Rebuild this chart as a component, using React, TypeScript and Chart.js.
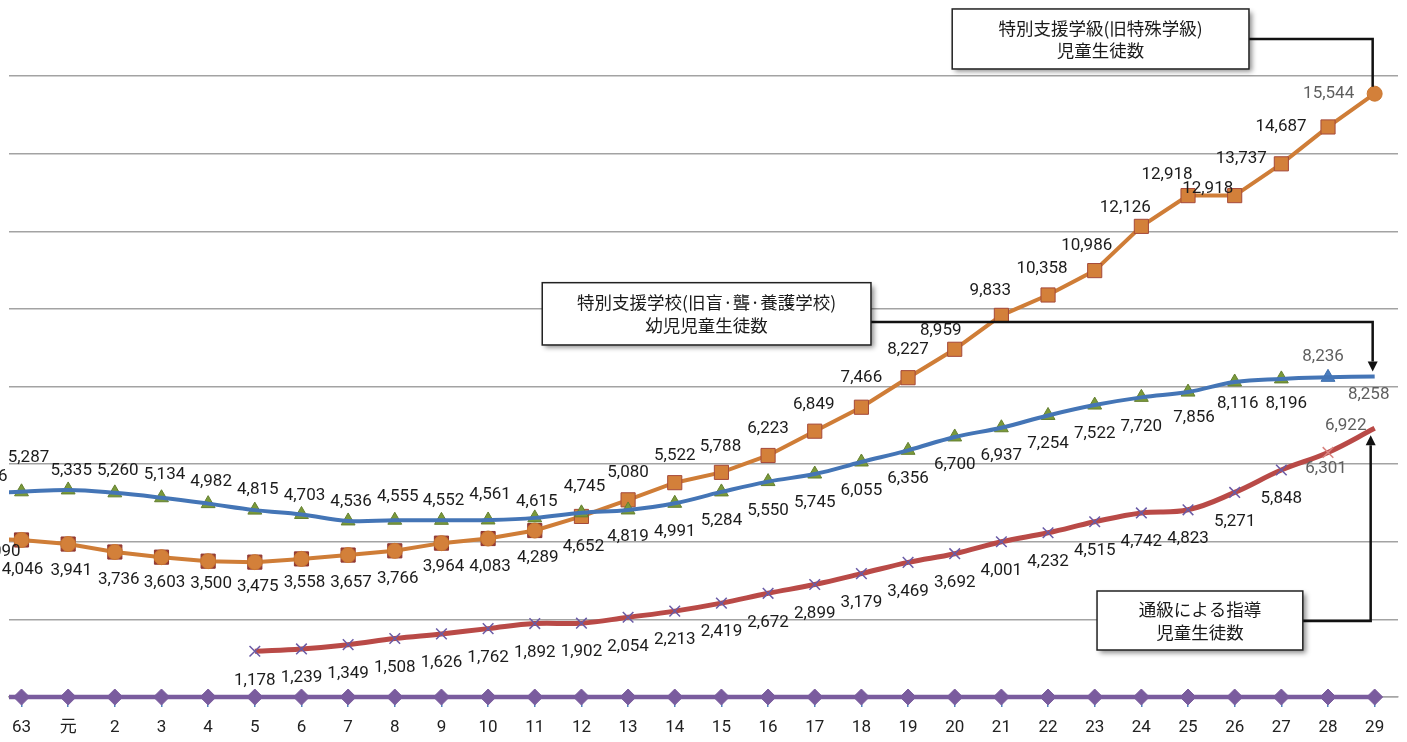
import React, { useEffect, useRef } from "react";
import { Chart, registerables } from "chart.js";

Chart.register(...registerables);

// ---- data -------------------------------------------------------------
// 昭和62, 63, 平成元 … 29
const CATEGORIES = [
  "62", "63", "元", "2", "3", "4", "5", "6", "7", "8", "9", "10", "11", "12", "13",
  "14", "15", "16", "17", "18", "19", "20", "21", "22", "23", "24", "25", "26", "27", "28", "29",
];

// 特別支援学校(旧盲・聾・養護学校) 幼児児童生徒数
const SCHOOL_STUDENTS = [
  5256, 5287, 5335, 5260, 5134, 4982, 4815, 4703, 4536, 4555, 4552, 4561, 4615, 4745, 4819,
  4991, 5284, 5550, 5745, 6055, 6356, 6700, 6937, 7254, 7522, 7720, 7856, 8116, 8196, 8236, 8258,
];

// 特別支援学級(旧特殊学級) 児童生徒数
const CLASS_STUDENTS = [
  4090, 4046, 3941, 3736, 3603, 3500, 3475, 3558, 3657, 3766, 3964, 4083, 4289, 4652, 5080,
  5522, 5788, 6223, 6849, 7466, 8227, 8959, 9833, 10358, 10986, 12126, 12918, 12918, 13737, 14687, 15544,
];

// 通級による指導 児童生徒数
const RESOURCE_ROOM_STUDENTS = [
  null, null, null, null, null, null, 1178, 1239, 1349, 1508, 1626, 1762, 1892, 1902, 2054,
  2213, 2419, 2672, 2899, 3179, 3469, 3692, 4001, 4232, 4515, 4742, 4823, 5271, 5848, 6301, 6922,
];

// 基準系列(0)
const BASELINE_SERIES = [
  0, 0, 0, 0, 0, 0, 0, 0, 0, 0, 0, 0, 0, 0, 0,
  0, 0, 0, 0, 0, 0, 0, 0, 0, 0, 0, 0, 0, 0, 0, 0,
];

const Y_MIN = 0;
const Y_MAX = 16000;
const Y_STEP = 2000;
const X_MIN = 0.732;
const X_MAX = 30.5;

// ---- label placement (offsets from the point, in px) -------------------
type Off = [number, number];
const SCHOOL_LABEL_POS: Record<string, Off> = {
  "62": [12, -16], "63": [7, -34], "元": [3, -19], "2": [3, -22], "3": [3, -23], "4": [3, -22],
  "5": [3, -20], "6": [3, -19], "7": [3, -19], "8": [3, -23], "9": [2, -20], "10": [2, -25],
  "11": [2, -16], "12": [3, -26], "13": [0, 27], "14": [0, 28], "15": [0, 29], "16": [0, 29],
  "17": [0, 29], "18": [0, 29], "19": [0, 28], "20": [0, 28], "21": [0, 28], "22": [0, 28],
  "23": [0, 29], "24": [0, 29], "25": [6, 26], "26": [3, 22], "27": [5, 25], "28": [-5, -21],
  "29": [-6, 18],
};
const CLASS_LABEL_POS: Record<string, Off> = {
  "62": [25, 13], "63": [1, 30], "元": [3, 27], "2": [4, 28], "3": [3, 26], "4": [3, 23],
  "5": [3, 25], "6": [3, 24], "7": [3, 28], "8": [3, 28], "9": [2, 24], "10": [2, 28],
  "11": [3, 27], "12": [2, 30], "13": [0, -27], "14": [0, -27], "15": [-1, -26], "16": [0, -27],
  "17": [-1, -26], "18": [0, -29], "19": [0, -28], "20": [-14, -19], "21": [-11, -25],
  "22": [-6, -26], "23": [-8, -25], "24": [-16, -19], "25": [-21, -21], "26": [-27, -7],
  "27": [-40, -5], "28": [-47, 0], "29": [-46, 0],
};
const RESOURCE_LABEL_POS: Record<string, Off> = {
  "28": [-2, 16], "29": [-29, -3],
};

const CALLOUTS = [
  {
    lines: ["特別支援学級(旧特殊学級)", "児童生徒数"],
    box: [20.946, 27.306, 17727, 16181],
    lineAt: 16954,
    series: CLASS_STUDENTS,
    gap: -7,
    arrow: false,
    dx: -2,
  },
  {
    lines: ["特別支援学校(旧盲·聾·養護学校)", "幼児児童生徒数"],
    box: [12.16, 19.205, 10675, 9070],
    lineAt: 9662,
    series: SCHOOL_STUDENTS,
    gap: -5,
    arrow: true,
    dx: -2,
  },
  {
    lines: ["通級による指導", "児童生徒数"],
    box: [24.05, 28.46, 2731, 1211],
    lineAt: 1958,
    series: RESOURCE_ROOM_STUDENTS,
    gap: 7,
    arrow: true,
    dx: -4,
  },
];

const toPoints = (arr: (number | null)[]) => arr.map((y, x) => ({ x, y }));
const LAST = CATEGORIES.length - 1;
const NUM_FONT = '17px Roboto, "Noto Sans", sans-serif';
const JP_FONT = '17.5px "Noto Sans CJK JP", sans-serif';

const valueLabels = {
  id: "valueLabels",
  afterDatasetsDraw(chart: any) {
    const { ctx } = chart;
    ctx.save();
    ctx.font = NUM_FONT;
    ctx.textAlign = "center";
    ctx.textBaseline = "middle";
    chart.data.datasets.forEach((ds: any, di: number) => {
      const cfg = ds.valueLabels;
      if (!cfg) return;
      const meta = chart.getDatasetMeta(di);
      meta.data.forEach((el: any, i: number) => {
        const raw = ds.data[i];
        if (!raw || raw.y == null || el.x == null || isNaN(el.x)) return;
        const cat = CATEGORIES[i];
        const [dx, dy] = cfg.pos[cat] || cfg.def;
        ctx.fillStyle = cfg.muted.includes(cat) ? "#5f5f5f" : "#1c1c1c";
        ctx.fillText(raw.y.toLocaleString("en-US"), el.x + dx, el.y + dy);
      });
    });
    ctx.restore();
  },
};

const callouts = {
  id: "callouts",
  afterDraw(chart: any) {
    const { ctx } = chart;
    const xs = chart.scales.x;
    const ys = chart.scales.y;
    const px = xs.getPixelForValue(LAST);
    ctx.save();
    CALLOUTS.forEach((c) => {
      const left = xs.getPixelForValue(c.box[0]);
      const right = xs.getPixelForValue(c.box[1]);
      const top = ys.getPixelForValue(c.box[2]);
      const bottom = ys.getPixelForValue(c.box[3]);
      const ly = ys.getPixelForValue(c.lineAt);
      const vx = px + c.dx;
      const endY = ys.getPixelForValue(c.series[LAST] as number) + c.gap;
      const dir = endY > ly ? 1 : -1;
      const head = 10;
      // connector
      ctx.strokeStyle = "#111";
      ctx.lineWidth = 2.5;
      ctx.lineJoin = "miter";
      ctx.beginPath();
      ctx.moveTo(right, ly);
      ctx.lineTo(vx, ly);
      ctx.lineTo(vx, c.arrow ? endY - dir * head : endY);
      ctx.stroke();
      if (c.arrow) {
        ctx.fillStyle = "#111";
        ctx.beginPath();
        ctx.moveTo(vx, endY);
        ctx.lineTo(vx - 5, endY - dir * head);
        ctx.lineTo(vx + 5, endY - dir * head);
        ctx.closePath();
        ctx.fill();
      }
      // box with shadow
      ctx.save();
      ctx.shadowColor = "rgba(0,0,0,0.45)";
      ctx.shadowBlur = 5;
      ctx.shadowOffsetX = 3;
      ctx.shadowOffsetY = 3;
      ctx.fillStyle = "#ffffff";
      ctx.fillRect(left, top, right - left, bottom - top);
      ctx.restore();
      ctx.strokeStyle = "#222";
      ctx.lineWidth = 1.5;
      ctx.strokeRect(left, top, right - left, bottom - top);
      // text
      ctx.fillStyle = "#1a1a1a";
      ctx.font = JP_FONT;
      ctx.textAlign = "center";
      ctx.textBaseline = "middle";
      const cx = (left + right) / 2;
      const cy = (top + bottom) / 2;
      ctx.fillText(c.lines[0], cx, cy - 11);
      ctx.fillText(c.lines[1], cx, cy + 11.5);
    });
    ctx.restore();
  },
};

const CLIP = { left: 0, right: 12, top: 12, bottom: false };

export default function App() {
  const canvasRef = useRef<HTMLCanvasElement | null>(null);

  useEffect(() => {
    const canvas = canvasRef.current;
    if (!canvas) return;
    const chart = new Chart(canvas, {
      type: "line",
      data: {
        datasets: [
          {
            label: "特別支援学校 幼児児童生徒数",
            data: toPoints(SCHOOL_STUDENTS),
            borderColor: "#4475B6",
            borderWidth: 4,
            tension: 0.4,
            pointRadius: 0,
            order: 0,
            clip: CLIP,
            valueLabels: { pos: SCHOOL_LABEL_POS, def: [3, -21], muted: ["28", "29"] },
          } as any,
          {
            label: "特別支援学校 markers",
            data: toPoints(SCHOOL_STUDENTS),
            showLine: false,
            pointStyle: "triangle",
            pointRadius: (c: any) => (c.dataIndex === LAST ? 0 : 8),
            pointBackgroundColor: (c: any) => (c.dataIndex === LAST - 1 ? "#4A7EC0" : "#7A9A3A"),
            pointBorderColor: (c: any) => (c.dataIndex === LAST - 1 ? "#3F6FAE" : "#647F30"),
            pointBorderWidth: 1,
            order: 1,
            clip: CLIP,
          } as any,
          {
            label: "特別支援学級 児童生徒数",
            data: toPoints(CLASS_STUDENTS),
            borderColor: "#CF7D37",
            borderWidth: 4,
            tension: 0,
            pointStyle: (c: any) => (c.dataIndex <= 12 || c.dataIndex === LAST ? "circle" : "rect"),
            pointRadius: (c: any) => (c.dataIndex <= 12 || c.dataIndex === LAST ? 7.5 : 10),
            pointBackgroundColor: "#D3803A",
            pointBorderColor: (c: any) => (c.dataIndex <= 12 || c.dataIndex === LAST ? "#C9762F" : "#A5493A"),
            pointBorderWidth: 1,
            order: 2,
            clip: CLIP,
            valueLabels: { pos: CLASS_LABEL_POS, def: [3, 27], muted: ["29"] },
          } as any,
          {
            label: "特別支援学級 back markers",
            data: toPoints(CLASS_STUDENTS),
            showLine: false,
            pointStyle: "rect",
            pointRadius: (c: any) => (c.dataIndex >= 1 && c.dataIndex <= 12 ? 10 : 0),
            pointBackgroundColor: "#9C3D34",
            pointBorderColor: "#8E3630",
            pointBorderWidth: 1,
            order: 3,
            clip: CLIP,
          } as any,
          {
            label: "通級による指導 児童生徒数",
            data: toPoints(RESOURCE_ROOM_STUDENTS),
            borderColor: "#B94A47",
            borderWidth: 5,
            tension: 0.4,
            pointStyle: "crossRot",
            pointRadius: (c: any) => (c.dataIndex === LAST ? 0 : 7.5),
            pointBorderColor: (c: any) => (c.dataIndex === LAST - 1 ? "#D98480" : "#6A5BA6"),
            pointBorderWidth: 1.5,
            order: 4,
            clip: CLIP,
            valueLabels: { pos: RESOURCE_LABEL_POS, def: [0, 29], muted: ["28", "29"] },
          } as any,
          {
            label: "基準",
            data: toPoints(BASELINE_SERIES),
            borderColor: "#7A5C9E",
            borderWidth: 4.5,
            tension: 0,
            pointStyle: "rectRot",
            pointRadius: 8,
            pointBackgroundColor: "#7A5C9E",
            pointBorderColor: "#7A5C9E",
            pointBorderWidth: 1,
            order: 5,
            clip: CLIP,
          } as any,
        ],
      },
      options: {
        animation: false,
        responsive: true,
        maintainAspectRatio: false,
        events: [],
        layout: { padding: { left: 8, right: 8.6, top: 76, bottom: 4 } },
        plugins: { legend: { display: false }, tooltip: { enabled: false } },
        scales: {
          x: {
            type: "linear",
            min: X_MIN,
            max: X_MAX,
            afterFit: (scale: any) => {
              scale.height = 41;
            },
            grid: {
              drawOnChartArea: false,
              drawTicks: true,
              tickLength: 10,
              color: "#4F81BD",
              lineWidth: 1.5,
            },
            border: { display: true, color: "#A6A6A6", width: 1.5 },
            ticks: {
              stepSize: 1,
              autoSkip: false,
              maxRotation: 0,
              minRotation: 0,
              includeBounds: false,
              padding: 11,
              color: "#222",
              font: { family: 'Roboto, "Noto Sans CJK JP", sans-serif', size: 17 },
              callback: (v: any) => (Number.isInteger(v) ? CATEGORIES[v] ?? "" : ""),
            },
          },
          y: {
            min: Y_MIN,
            max: Y_MAX,
            ticks: { stepSize: Y_STEP, display: false },
            grid: { color: "#A3A3A3", lineWidth: 1.5, drawTicks: false },
            border: { display: false },
          },
        },
      } as any,
      plugins: [valueLabels, callouts],
    });
    return () => chart.destroy();
  }, []);

  return (
    <div
      style={{
        position: "fixed",
        left: 0,
        top: 0,
        width: 1407,
        height: 742,
        overflow: "hidden",
        background: "#ffffff",
      }}
    >
      <div style={{ position: "relative", width: 1407, height: 742 }}>
        <canvas ref={canvasRef} />
      </div>
    </div>
  );
}
